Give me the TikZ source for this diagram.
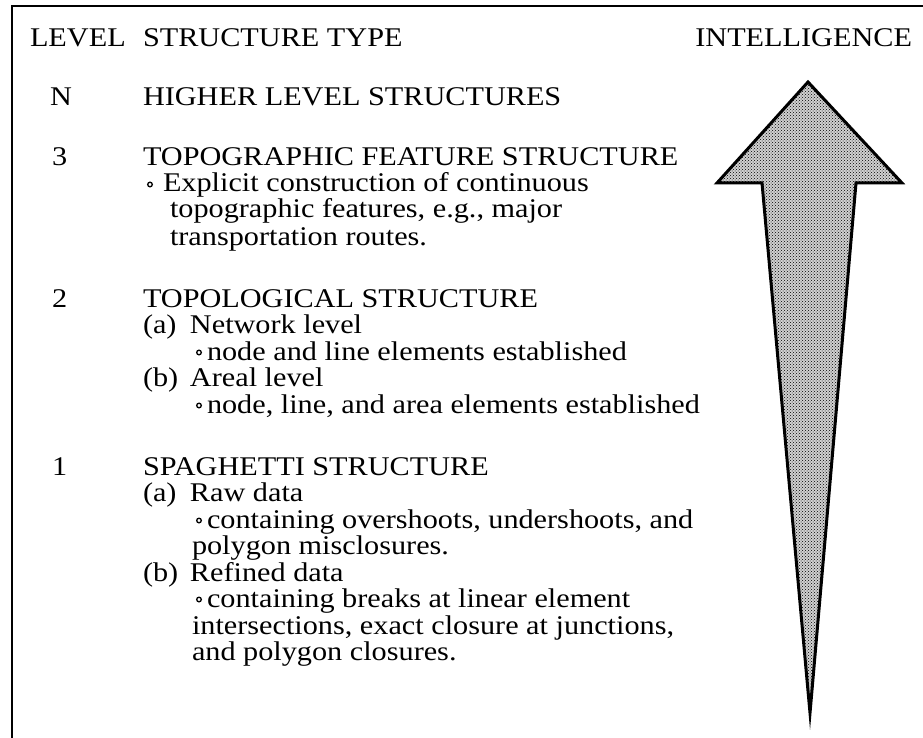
\documentclass[tikz,border=0pt]{standalone}
\usepackage{fontspec}
\setmainfont{Liberation Serif}[FakeStretch=1.12]
\usetikzlibrary{patterns,calc}

\tikzset{
  txt/.style={anchor=base west, inner sep=0pt, outer sep=0pt,
              font=\fontsize{27}{27}\selectfont},
  txtr/.style={txt, anchor=base east},
  ring/.style={line width=1.3pt},
  frame/.style={line width=2.2pt},
  bigarrow/.style={line width=3pt, line join=miter, miter limit=20}
}
\newcommand{\lbl}[1]{\makebox[47pt][l]{#1}}

\begin{document}
\begin{tikzpicture}[x=1pt,y=-1pt]
  \useasboundingbox (0,0) rectangle (923,738);

  % open frame: top rule and left rule
  \draw[frame] (12,738) -- (12,6) -- (923,6);

  % column headings
  \node[txt]  (hLevel) at (30,47)  {LEVEL};
  \node[txt]  (hType)  at (143,47) {STRUCTURE TYPE};
  \node[txtr] (hIntel) at (912,47) {INTELLIGENCE};

  % level N
  \node[txt] (lN) at (50,106)  {N};
  \node[txt] (sN) at (143,106) {HIGHER LEVEL STRUCTURES};

  % level 3
  \node[txt] (l3) at (52,166)  {3};
  \node[txt] (s3) at (143,166) {TOPOGRAPHIC FEATURE STRUCTURE};
  \node[txt] (s3a) at (163,192) {Explicit construction of continuous};
  \node[txt] (s3b) at (170,218) {topographic features, e.g., major};
  \node[txt] (s3c) at (170,245) {transportation routes.};

  % level 2
  \node[txt] (l2) at (52,307)  {2};
  \node[txt] (s2) at (143,307) {TOPOLOGICAL STRUCTURE};
  \node[txt] (s2a) at (143,333) {\lbl{(a)}Network level};
  \node[txt] (s2a1) at (207,360) {node and line elements established};
  \node[txt] (s2b) at (143,386) {\lbl{(b)}Areal level};
  \node[txt] (s2b1) at (207,413) {node, line, and area elements established};

  % level 1
  \node[txt] (l1) at (52,475)  {1};
  \node[txt] (s1) at (143,475) {SPAGHETTI STRUCTURE};
  \node[txt] (s1a) at (143,501) {\lbl{(a)}Raw data};
  \node[txt] (s1a1) at (207,528) {containing overshoots, undershoots, and};
  \node[txt] (s1a2) at (192,554) {polygon misclosures.};
  \node[txt] (s1b) at (143,581) {\lbl{(b)}Refined data};
  \node[txt] (s1b1) at (207,607) {containing breaks at linear element};
  \node[txt] (s1b2) at (192,634) {intersections, exact closure at junctions,};
  \node[txt] (s1b3) at (192,660) {and polygon closures.};

  % bullets
  \foreach \n/\dx in {s3a/13, s2a1/8, s2b1/8, s1a1/8, s1b1/8}
    \draw[ring] ($(\n.base west)+(-\dx,-7.5)$) circle[radius=2.3];

  % intelligence arrow
  \coordinate (tipTop) at (808,82);
  \coordinate (headR)  at (902,183);
  \coordinate (shaftR) at (856,183);
  \coordinate (tipBot) at (810,713);
  \coordinate (shaftL) at (762,183);
  \coordinate (headL)  at (717,183);
  \fill[black!18] (tipTop) -- (headR) -- (shaftR) -- (tipBot) -- (shaftL) -- (headL) -- cycle;
  \path[pattern=crosshatch dots] (tipTop) -- (headR) -- (shaftR) -- (tipBot) -- (shaftL) -- (headL) -- cycle;
  \draw[bigarrow] (tipTop) -- (headR) -- (shaftR) -- (tipBot) -- (shaftL) -- (headL) -- cycle;
\end{tikzpicture}
\end{document}
